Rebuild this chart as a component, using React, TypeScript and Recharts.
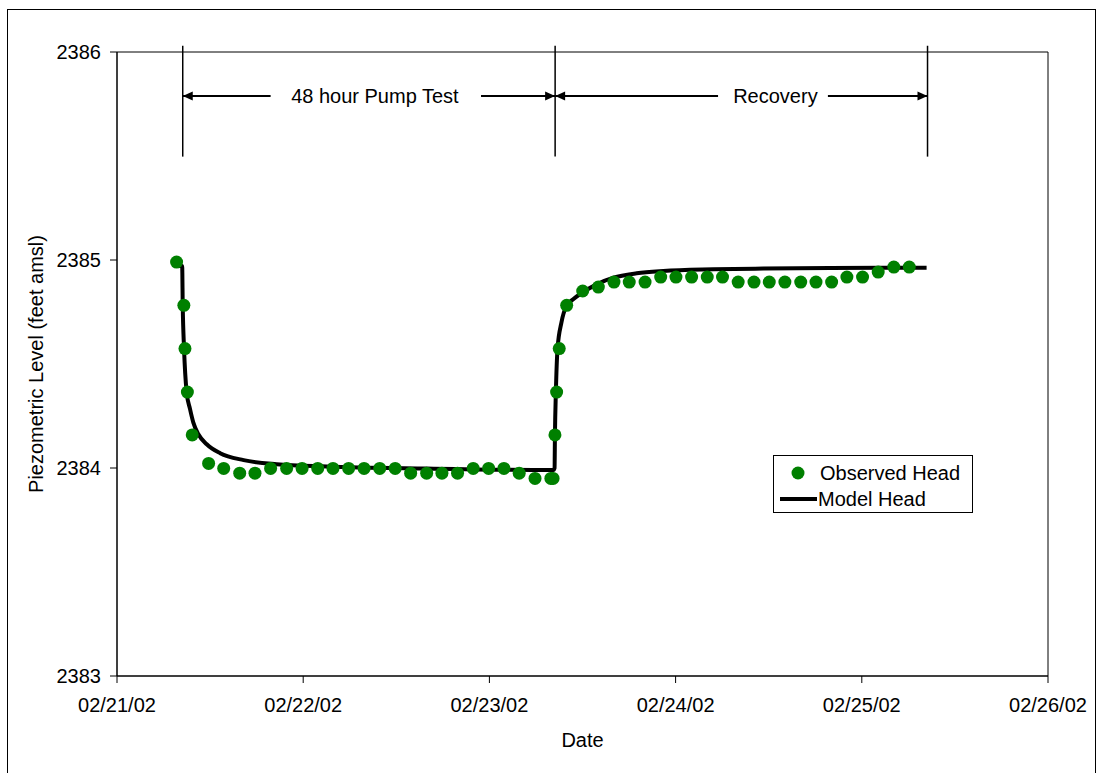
import {
  ComposedChart,
  Line,
  Scatter,
  XAxis,
  YAxis,
  ReferenceLine,
  ReferenceArea,
  ReferenceDot,
  Legend,
} from "recharts";

// days since 02/21/02 00:00
const DATE_LABELS = ["02/21/02", "02/22/02", "02/23/02", "02/24/02", "02/25/02", "02/26/02"];
const X_TICKS = [0, 1, 2, 3, 4, 5];
const Y_TICKS = [2383, 2384, 2385, 2386];

const OBS_T = [
  0.32, 0.359, 0.365, 0.378, 0.404, 0.492, 0.573, 0.659, 0.741, 0.825, 0.911, 0.994, 1.078, 1.16,
  1.244, 1.327, 1.411, 1.494, 1.577, 1.663, 1.745, 1.829, 1.913, 1.996, 2.078, 2.16, 2.245, 2.33,
  2.342, 2.352, 2.361, 2.375, 2.415, 2.501, 2.585, 2.669, 2.751, 2.836, 2.92, 3.002, 3.086, 3.17,
  3.252, 3.336, 3.421, 3.503, 3.587, 3.672, 3.754, 3.838, 3.92, 4.004, 4.088, 4.172, 4.255,
];
const OBS_HEAD = [
  2384.99, 2384.782, 2384.574, 2384.365, 2384.159, 2384.022, 2383.998, 2383.975, 2383.975,
  2383.998, 2383.998, 2383.998, 2383.998, 2383.998, 2383.998, 2383.998, 2383.998, 2383.998,
  2383.975, 2383.975, 2383.975, 2383.975, 2383.998, 2383.998, 2383.998, 2383.975, 2383.95,
  2383.95, 2383.95, 2384.159, 2384.365, 2384.574, 2384.782, 2384.851, 2384.87, 2384.894,
  2384.894, 2384.894, 2384.918, 2384.918, 2384.918, 2384.918, 2384.918, 2384.894, 2384.894,
  2384.894, 2384.894, 2384.894, 2384.894, 2384.894, 2384.918, 2384.918, 2384.942, 2384.966,
  2384.966,
];

const MODEL_T = [
  0.317, 0.35, 0.353, 0.36, 0.374, 0.392, 0.41, 0.437, 0.482, 0.554, 0.68, 0.857, 1.126, 1.663,
  2.344, 2.35, 2.352, 2.357, 2.366, 2.387, 2.414, 2.45, 2.504, 2.576, 2.666, 2.791, 2.934, 3.203,
  3.471, 3.83, 4.348,
];
const MODEL_HEAD = [
  2384.971, 2384.971, 2384.782, 2384.575, 2384.365, 2384.284, 2384.218, 2384.162, 2384.114,
  2384.071, 2384.038, 2384.018, 2384.007, 2383.997, 2383.99, 2384.0, 2384.159, 2384.365,
  2384.574, 2384.7, 2384.779, 2384.811, 2384.846, 2384.883, 2384.915, 2384.936, 2384.947,
  2384.955, 2384.959, 2384.962, 2384.963,
];

// pump test / recovery annotation
const PHASE_T = [0.353, 2.353, 4.353];
const ARROW_Y = 2385.788;
const PUMP_LABEL = "48 hour Pump Test";
const PUMP_LABEL_T = 1.385;
const PUMP_GAP = [0.825, 1.955];
const RECOVERY_LABEL = "Recovery";
const RECOVERY_LABEL_T = 3.536;
const RECOVERY_GAP = [3.228, 3.818];

const observed = OBS_T.map((t, i) => ({ t, head: OBS_HEAD[i] }));
const model = MODEL_T.map((t, i) => ({ t, head: MODEL_HEAD[i] }));

const FONT = "'Liberation Sans', Arial, sans-serif";
const GREEN = "#008000";

function Arrow(props: any) {
  const { x1, y1, x2, y2, head } = props;
  const h = 10;
  const w = 4.5;
  return (
    <g>
      <line x1={x1} y1={y1} x2={x2} y2={y2} stroke="#000" strokeWidth={2} />
      {head === "start" && (
        <polygon points={`${x1},${y1} ${x1 + h},${y1 - w} ${x1 + h},${y1 + w}`} fill="#000" />
      )}
      {head === "end" && (
        <polygon points={`${x2},${y2} ${x2 - h},${y2 - w} ${x2 - h},${y2 + w}`} fill="#000" />
      )}
    </g>
  );
}

function LegendBox() {
  return (
    <div
      style={{
        border: "1px solid #000",
        background: "#fff",
        width: 198,
        height: 56,
        fontFamily: FONT,
        fontSize: 20,
        color: "#000",
        position: "relative",
      }}
    >
      <svg width={198} height={56} style={{ position: "absolute", left: 0, top: 0 }}>
        <circle cx={24} cy={17} r={6.5} fill={GREEN} />
        <line x1={6} y1={43} x2={43} y2={43} stroke="#000" strokeWidth={4} />
        <text x={46} y={24} fontFamily={FONT} fontSize={20}>Observed Head</text>
        <text x={44} y={50} fontFamily={FONT} fontSize={20}>Model Head</text>
      </svg>
    </div>
  );
}

export default function App() {
  const tickStyle = { fontSize: 20, fill: "#000", fontFamily: FONT };
  return (
    <div style={{ position: "absolute", left: 0, top: 0, width: 1098, height: 773, overflow: "hidden", background: "#fff" }}>
      <div
        style={{
          position: "absolute",
          left: 7,
          top: 9,
          width: 1089,
          height: 800,
          border: "1px solid #000",
          boxSizing: "border-box",
        }}
      />
      <div style={{ position: "absolute", left: 0, top: 0 }}>
        <ComposedChart width={1098} height={773} margin={{ top: 52, right: 50, left: 20, bottom: 17 }}>
          <XAxis
            type="number"
            dataKey="t"
            domain={[0, 5]}
            ticks={X_TICKS}
            tickFormatter={(v: number) => DATE_LABELS[v]}
            tick={tickStyle}
            tickSize={7}
            tickMargin={15}
            stroke="#000"
            height={80}
            allowDataOverflow
            label={{ value: "Date", position: "insideBottom", offset: 9, fontSize: 20, fill: "#000", fontFamily: FONT }}
          />
          <YAxis
            type="number"
            dataKey="head"
            domain={[2383, 2386]}
            ticks={Y_TICKS}
            tick={tickStyle}
            tickSize={7}
            tickMargin={9}
            stroke="#000"
            width={97}
            allowDataOverflow
            label={{
              value: "Piezometric Level (feet amsl)",
              angle: -90,
              position: "insideLeft",
              offset: 16,
              fontSize: 20,
              fill: "#000",
              fontFamily: FONT,
              style: { textAnchor: "middle" },
            }}
          />
          <ReferenceArea x1={0} x2={5} y1={2383} y2={2386} fill="none" stroke="#000" strokeWidth={1} />
          {PHASE_T.map((t) => (
            <ReferenceLine
              key={t}
              segment={[
                { x: t, y: 2385.497 },
                { x: t, y: 2386.03 },
              ]}
              stroke="#000"
              strokeWidth={1.5}
              ifOverflow="visible"
            />
          ))}
          <ReferenceLine
            segment={[
              { x: PHASE_T[0], y: ARROW_Y },
              { x: PUMP_GAP[0], y: ARROW_Y },
            ]}
            shape={(p: any) => <Arrow {...p} head="start" />}
          />
          <ReferenceLine
            segment={[
              { x: PUMP_GAP[1], y: ARROW_Y },
              { x: PHASE_T[1], y: ARROW_Y },
            ]}
            shape={(p: any) => <Arrow {...p} head="end" />}
          />
          <ReferenceLine
            segment={[
              { x: PHASE_T[1], y: ARROW_Y },
              { x: RECOVERY_GAP[0], y: ARROW_Y },
            ]}
            shape={(p: any) => <Arrow {...p} head="start" />}
          />
          <ReferenceLine
            segment={[
              { x: RECOVERY_GAP[1], y: ARROW_Y },
              { x: PHASE_T[2], y: ARROW_Y },
            ]}
            shape={(p: any) => <Arrow {...p} head="end" />}
          />
          <ReferenceDot
            x={PUMP_LABEL_T}
            y={ARROW_Y}
            r={0}
            stroke="none"
            fill="none"
            label={{ value: PUMP_LABEL, position: "center", fontSize: 20, fill: "#000", fontFamily: FONT }}
          />
          <ReferenceDot
            x={RECOVERY_LABEL_T}
            y={ARROW_Y}
            r={0}
            stroke="none"
            fill="none"
            label={{ value: RECOVERY_LABEL, position: "center", fontSize: 20, fill: "#000", fontFamily: FONT }}
          />
          <Scatter
            name="Observed Head"
            data={observed}
            fill={GREEN}
            isAnimationActive={false}
            shape={(p: any) => <circle cx={p.cx} cy={p.cy} r={6.5} fill={GREEN} />}
          />
          <Line
            name="Model Head"
            data={model}
            dataKey="head"
            type="monotone"
            stroke="#000"
            strokeWidth={4}
            dot={false}
            activeDot={false}
            isAnimationActive={false}
          />
          <Legend
            layout="vertical"
            align="center"
            verticalAlign="middle"
            wrapperStyle={{ left: 773, top: 455, width: 200 }}
            content={() => <LegendBox />}
          />
        </ComposedChart>
      </div>
    </div>
  );
}
